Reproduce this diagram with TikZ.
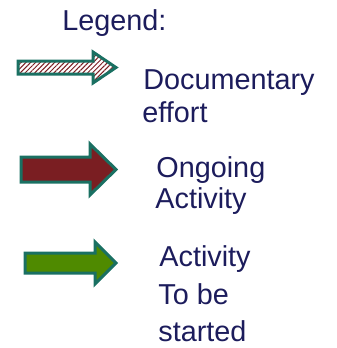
\documentclass[tikz,border=0pt]{standalone}
\usepackage{fontspec}
\setmainfont{Liberation Sans}
\usetikzlibrary{patterns.meta}

\definecolor{legendtext}{HTML}{1C1C5C}
\definecolor{arrowedge}{HTML}{1A7062}
\definecolor{ongoingred}{HTML}{7A1E22}
\definecolor{startgreen}{HTML}{4F8A00}

\tikzset{
  legendlabel/.style={anchor=base west, inner sep=0pt, text=legendtext,
    font=\fontsize{14.4}{16}\selectfont},
  legendarrow/.style={draw=arrowedge, line width=1.5pt, line join=miter},
}

\begin{document}
\begin{tikzpicture}[x=0.5pt, y=-0.5pt]
\useasboundingbox (0,0) rectangle (337,348);

% Title
\node[legendlabel] (title) at (62,31) {Legend:};

% Documentary effort
\draw[legendarrow, pattern={Lines[angle=45, distance=1.7pt, line width=0.5pt]}, pattern color=ongoingred]
  (18,61) -- (93,61) -- (93,52) -- (116,67.5) -- (93,83) -- (93,74) -- (18,74) -- cycle;
\node[legendlabel] (doc1) at (143,89) {Documentary};
\node[legendlabel] (doc2) at (142,122) {effort};

% Ongoing activity
\draw[legendarrow, fill=ongoingred]
  (21,157) -- (90,157) -- (90,144) -- (116,169.5) -- (90,195) -- (90,182) -- (21,182) -- cycle;
\node[legendlabel] (ong1) at (156,177) {Ongoing};
\node[legendlabel] (ong2) at (155,208) {Activity};

% Activity to be started
\draw[legendarrow, fill=startgreen]
  (25,253) -- (95,253) -- (95,242) -- (116,263) -- (95,284) -- (95,273) -- (25,273) -- cycle;
\node[legendlabel] (new1) at (159,266) {Activity};
\node[legendlabel] (new2) at (158,304) {To be};
\node[legendlabel] (new3) at (158,341) {started};
\end{tikzpicture}
\end{document}
